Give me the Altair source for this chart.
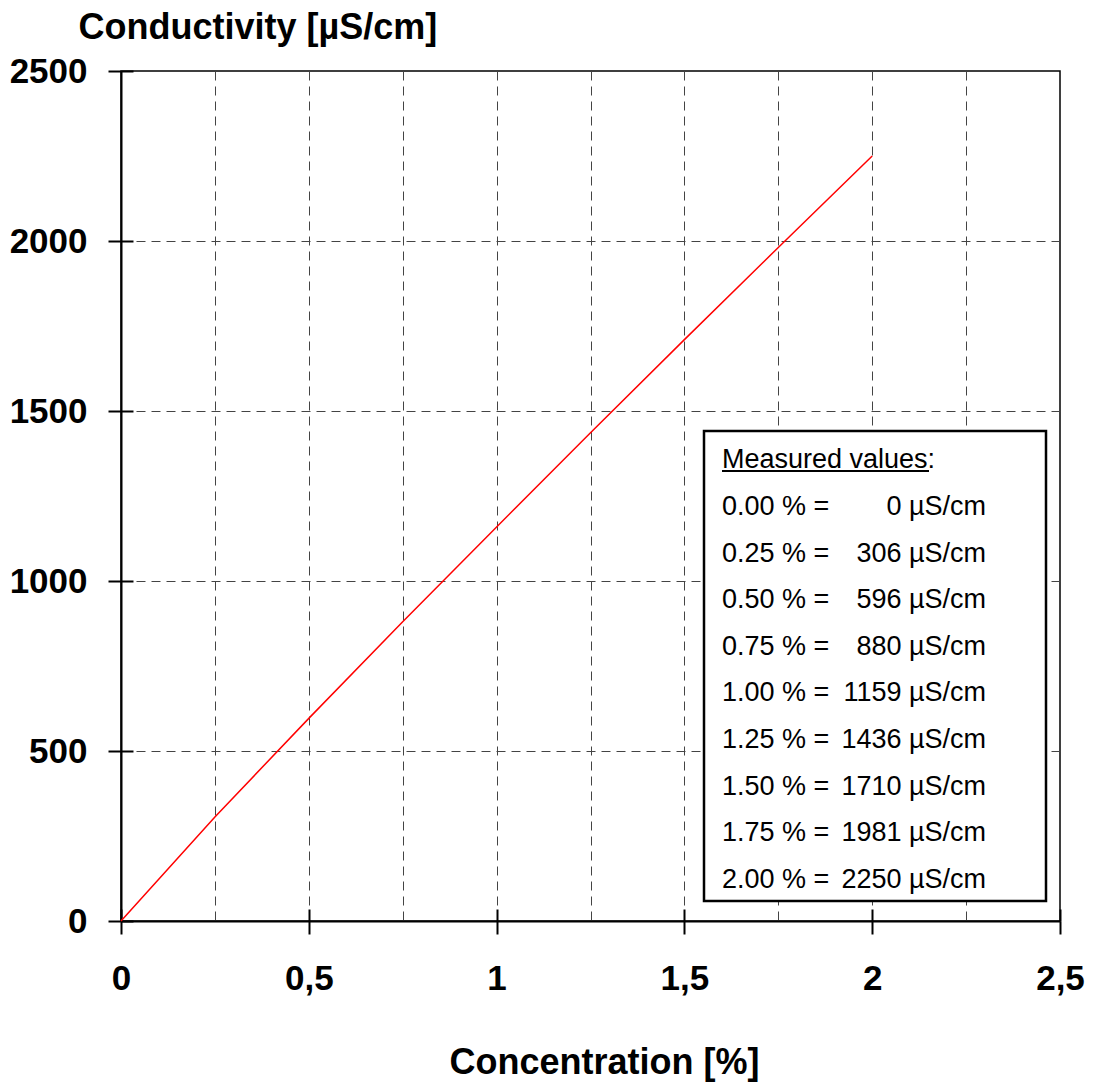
import altair as alt
import pandas as pd

# Data
conc = [0.00, 0.25, 0.50, 0.75, 1.00, 1.25, 1.50, 1.75, 2.00]
cond = [0, 306, 596, 880, 1159, 1436, 1710, 1981, 2250]

x_ticks = [i * 0.25 for i in range(11)]
x_major = [i * 0.5 for i in range(6)]
y_ticks = [0, 500, 1000, 1500, 2000, 2500]

W, H = 939, 850
FONT = "Liberation Sans"

df = pd.DataFrame({"conc": conc, "cond": cond})

# legend box rows (built from the data arrays)
row_px = [436 + 46.6 * i for i in range(len(conc))]
leg = pd.DataFrame({
    "left": [f"{c:.2f} % =" for c in conc],
    "right": [f"{v} µS/cm" for v in cond],
    "yd": [2500 * (1 - p / H) for p in row_px],
})

x_axis = alt.Axis(
    values=x_ticks, format="~g",
    labelExpr="datum.value % 0.5 == 0 ? replace(datum.label, '.', ',') : ''",
    labelFont=FONT, labelFontSize=35, labelFontWeight="bold", labelColor="black",
    labelBaseline="alphabetic", labelPadding=55, labelFlush=False, labelOverlap=False,
    tickSize=13, tickColor="black", tickWidth=2,
    tickOpacity={"condition": {"test": "datum.value % 0.5 != 0", "value": 0}, "value": 1},
    domainColor="black", domainWidth=2,
    grid=True, gridColor="#444444", gridWidth=1, gridDash=[9, 6],
    gridOpacity={"condition": {"test": "datum.value == 0 || datum.value == 2.5", "value": 0}, "value": 1},
    title="Concentration [%]", titleFont=FONT, titleFontSize=36, titleFontWeight="bold",
    titleColor="black", titleX=483, titleY=152, titleAlign="center", titleBaseline="alphabetic",
)

y_axis = alt.Axis(
    values=y_ticks, format="d",
    labelFont=FONT, labelFontSize=35, labelFontWeight="bold", labelColor="black",
    labelPadding=21, labelFlush=False, labelOverlap=False, labelBaseline="middle",
    tickSize=13, tickColor="black", tickWidth=2,
    domainColor="black", domainWidth=2,
    grid=True, gridColor="#444444", gridWidth=1, gridDash=[9, 6],
    gridOpacity={"condition": {"test": "datum.value == 0 || datum.value == 2500", "value": 0}, "value": 1},
    title="Conductivity [µS/cm]", titleFont=FONT, titleFontSize=36, titleFontWeight="bold",
    titleColor="black", titleAngle=0, titleAlign="left", titleBaseline="alphabetic",
    titleX=-43, titleY=-33,
)

# inner halves of the ticks (ticks cross the axis lines)
x_inner = alt.Axis(
    orient="top", offset=-H, values=x_major, labels=False, domain=False, grid=False,
    tickSize=12, tickColor="black", tickWidth=2, title=None,
)
y_inner = alt.Axis(
    orient="right", offset=-W, values=y_ticks, labels=False, domain=False, grid=False,
    tickSize=12, tickColor="black", tickWidth=2, title=None,
)

xs = alt.Scale(domain=[0, 2.5], nice=False)
ys = alt.Scale(domain=[0, 2500], nice=False)

line = alt.Chart(df).mark_line(color="#ff0000", strokeWidth=1.5).encode(
    x=alt.X("conc:Q", scale=xs, axis=x_axis),
    y=alt.Y("cond:Q", scale=ys, axis=y_axis),
)

inner = alt.Chart(df).mark_line(opacity=0).encode(
    x=alt.X("conc:Q", scale=xs, axis=x_inner),
    y=alt.Y("cond:Q", scale=ys, axis=y_inner),
)

box = alt.Chart(pd.DataFrame({"a": [0]})).mark_rect(
    fill="white", stroke="black", strokeWidth=2.5
).encode(
    x=alt.value(583), x2=alt.value(925), y=alt.value(360), y2=alt.value(830)
)

header = alt.Chart(pd.DataFrame({"t": ["Measured values:"]})).mark_text(
    font=FONT, fontSize=27, align="left", baseline="middle", color="black"
).encode(text="t:N", x=alt.value(601), y=alt.value(389))

underline = alt.Chart(pd.DataFrame({"a": [0]})).mark_rule(
    color="black", strokeWidth=2
).encode(x=alt.value(601), x2=alt.value(808), y=alt.value(400))

left_txt = alt.Chart(leg).mark_text(
    font=FONT, fontSize=27, align="left", baseline="middle", color="black"
).encode(text="left:N", x=alt.value(601), y=alt.Y("yd:Q", scale=ys, axis=None))

right_txt = alt.Chart(leg).mark_text(
    font=FONT, fontSize=27, align="right", baseline="middle", color="black"
).encode(text="right:N", x=alt.value(865), y=alt.Y("yd:Q", scale=ys, axis=None))

chart = alt.layer(line, inner, box, header, underline, left_txt, right_txt).resolve_axis(
    x="independent", y="independent"
).properties(
    width=W, height=H,
    autosize=alt.AutoSizeParams(type="none"),
    padding={"left": 113, "top": 63, "right": 28, "bottom": 161},
    background="white",
).configure_view(stroke="black", strokeWidth=1.5)

chart.save("out.html", embed_options={"renderer": "svg", "actions": False})
